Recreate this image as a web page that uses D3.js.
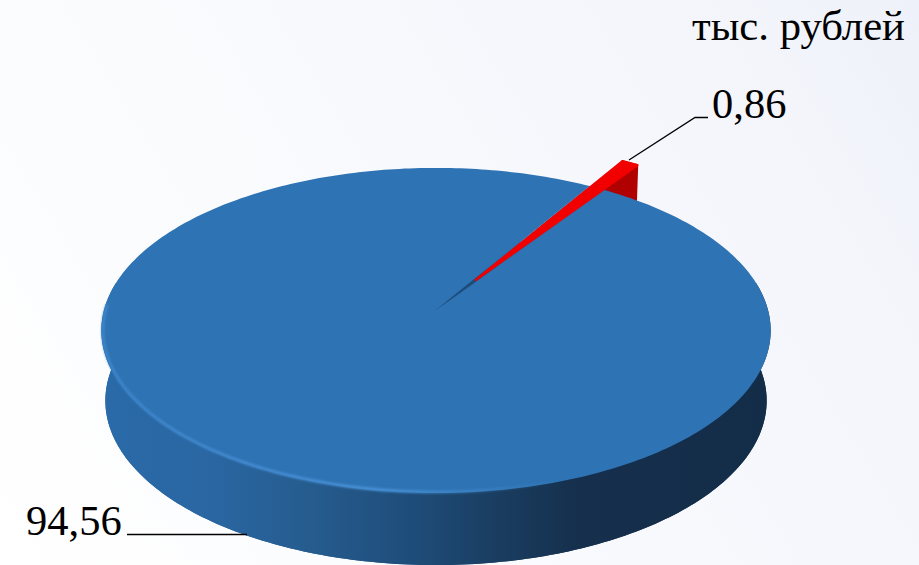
<!DOCTYPE html>
<html>
<head>
<meta charset="utf-8">
<script src="https://cdn.jsdelivr.net/npm/d3@7"></script>
<style>
html,body{margin:0;padding:0;background:#fff;overflow:hidden}
text{font-family:"Liberation Serif",serif;fill:#000}
</style>
</head>
<body>
<svg id="chart" width="919" height="565"></svg>
<script>
const categories = ['a', 'b'];
const values = [94.56, 0.86];
const unitLabel = 'тыс. рублей';

const width = 919, height = 565;
const cx = 436, cy = 310;
const b = 0.126, ya = 160, xc = 332;   // perspective of the disc
const depth = 70, shrink = 0.988;
const explode = 0.23;
const rad = Math.PI / 180;

const svg = d3.select('#chart');
const defs = svg.append('defs');

function linGrad(id, x1, y1, x2, y2, stops) {
  const g = defs.append('linearGradient').attr('id', id)
    .attr('gradientUnits', 'userSpaceOnUse')
    .attr('x1', x1).attr('y1', y1).attr('x2', x2).attr('y2', y2);
  stops.forEach(s => g.append('stop').attr('offset', s[0]).attr('stop-color', s[1])
    .attr('stop-opacity', s[2] === undefined ? 1 : s[2]));
}

// project polar position on the disc to the screen, z=1 is the lower face
function project(angle, r, z, off) {
  const u = r * Math.sin(angle) + (off ? off[0] : 0);
  const v = -r * Math.cos(angle) + (off ? off[1] : 0);
  const k = 1 / (1 - b * v);
  const s = z ? shrink : 1;
  return [cx + xc * u * k * s, cy + ya * v * k + (z ? depth * (1 + (k - 1) * 0.2) : 0)];
}

function arcPts(a0, a1, r, z, off) {
  const n = Math.max(2, Math.ceil(Math.abs(a1 - a0) / (1 * rad)));
  return d3.range(n + 1).map(i => project(a0 + (a1 - a0) * i / n, r, z, off));
}

const line = d3.line();
const closed = pts => line(pts) + 'Z';

const pie = d3.pie().sort(null)
  .startAngle(34.1 * rad).endAngle(34.1 * rad + 2 * Math.PI);
const slices = pie(values);
const blue = slices[0], red = slices[1];
const mid = (red.startAngle + red.endAngle) / 2;
const redOff = [explode * Math.sin(mid), -explode * Math.cos(mid)];

// background
linGrad('bg', 0, height, width, 0, [[0, '#ffffff'], [0.45, '#f9fafd'], [0.85, '#f3f5fb'], [1, '#eef1f9']]);
svg.append('rect').attr('width', width).attr('height', height).attr('fill', 'url(#bg)');

// red walls, behind the disc: outer rim and the cut face on the right
const redA0 = red.startAngle, redA1 = red.endAngle;
svg.append('path').attr('fill', '#b50000').attr('stroke', '#b50000').attr('stroke-width', 2)
  .attr('d', closed(arcPts(redA0, redA1, 1, 0, redOff)
    .concat(arcPts(redA1, redA0, 1, 1, redOff))));
svg.append('path').attr('fill', '#b00000')
  .attr('d', closed([project(0, 0, 0, redOff), project(redA1, 1, 0, redOff),
    project(redA1, 1, 1, redOff), project(0, 0, 1, redOff)]));

// blue wall
linGrad('wall', 104, 0, 766, 0, [
  [0, '#2a6aa8'], [0.15, '#2a67a3'], [0.3, '#265d90'], [0.45, '#1f4e7c'],
  [0.58, '#1a3f63'], [0.72, '#152f4c'], [1, '#132d49']]);
const wallFront = arcPts(80 * rad, 280 * rad, 1, 0).concat(arcPts(280 * rad, 80 * rad, 1, 1));
svg.append('path').attr('fill', 'url(#wall)').attr('d', closed(wallFront));
svg.append('path').attr('fill', 'url(#wall)')
  .attr('d', closed(arcPts(0, 2 * Math.PI, 1, 1)));

// top face, blue sector + the gap left by the pulled out slice
const topFill = '#2e73b3';
const apex = project(0, 0, 0);
const rim = project(mid, 1, 0);
linGrad('gap', apex[0], apex[1], rim[0], rim[1], [
  [0, '#2b6aa6'], [0.08, '#1f5080'], [0.24, '#1d4c7c'], [0.4, topFill], [1, topFill]]);
svg.append('path').attr('fill', topFill)
  .attr('d', closed([apex].concat(arcPts(blue.startAngle, blue.endAngle, 1, 0))));
svg.append('path').attr('fill', 'url(#gap)')
  .attr('d', closed([apex].concat(arcPts(redA0, redA1, 1, 0))));

// bevel highlight along the front left rim
defs.append('filter').attr('id', 'soft').append('feGaussianBlur').attr('stdDeviation', 1.2);
linGrad('bevel', 101, 0, 560, 0, [
  [0, '#3f86cc', 0.9], [0.6, '#4a92d8', 0.95], [1, '#4a92d8', 0]]);
svg.append('path').attr('fill', 'none').attr('stroke', 'url(#bevel)')
  .attr('stroke-width', 3).attr('filter', 'url(#soft)')
  .attr('d', line(arcPts(272 * rad, 150 * rad, 0.995, 0)));

// red top
svg.append('path').attr('fill', '#f20000').attr('stroke', '#f20000').attr('stroke-width', 2.5)
  .attr('stroke-linejoin', 'round')
  .attr('d', closed([project(0, 0, 0, redOff)].concat(arcPts(redA0, redA1, 1, 0, redOff))));

// leader lines
const leader = d3.line();
const leaders = svg.append('g').attr('fill', 'none').attr('stroke', '#000').attr('stroke-width', 1.3);
leaders.append('path').attr('d', leader([[708, 117.5], [695, 117.5], [629, 160]]));
leaders.append('path').attr('d', leader([[127, 534.5], [247, 534.5]]));

// labels
const fmt = v => String(v).replace('.', ',');
svg.append('text').attr('x', 692).attr('y', 40).attr('font-size', 42.7).text(unitLabel);
svg.selectAll('text.val').data(values).enter().append('text').attr('class', 'val')
  .attr('x', (d, i) => i === 0 ? 26 : 712)
  .attr('y', (d, i) => i === 0 ? 535 : 118)
  .attr('font-size', 42.5)
  .text(fmt);
</script>
</body>
</html>
